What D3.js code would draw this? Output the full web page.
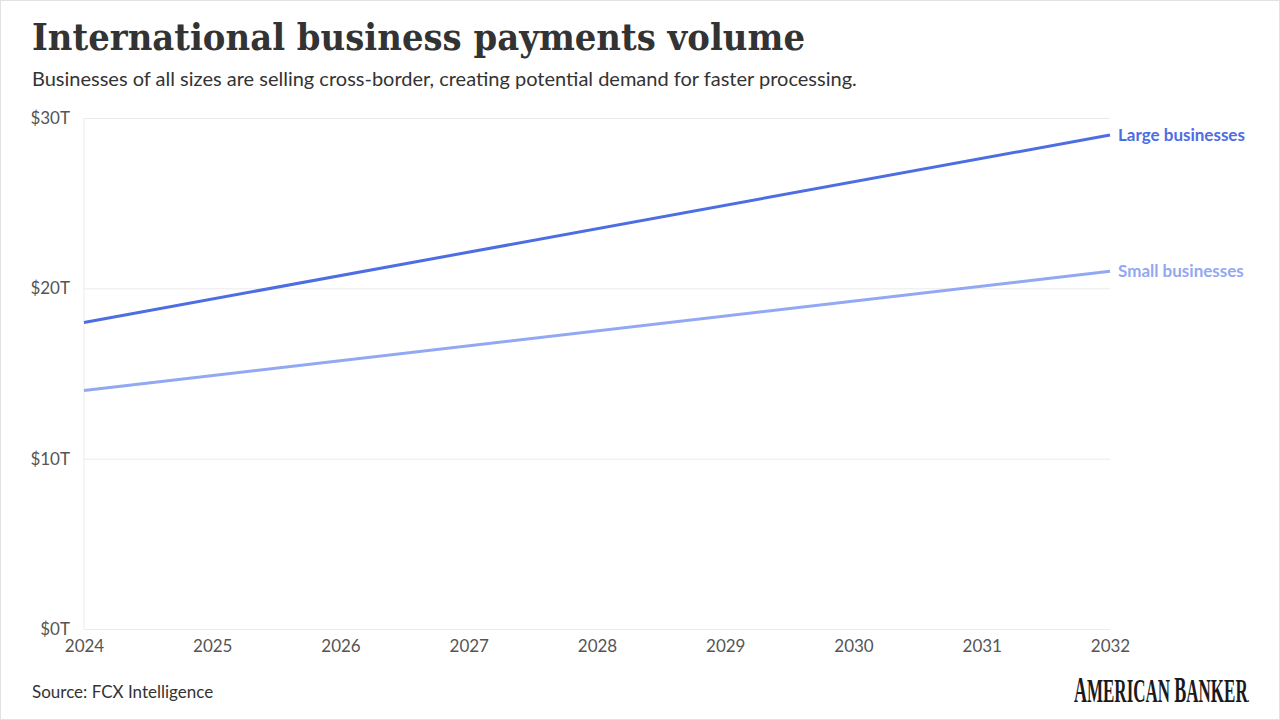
<!DOCTYPE html>
<html>
<head>
<meta charset="utf-8">
<script src="https://cdn.jsdelivr.net/npm/d3@7"></script>
<style>
  body { margin: 0; background: #fff; }
  svg { display: block; }
</style>
</head>
<body>
<svg id="chart"></svg>
<script>
// data
var years = [2024, 2032];
var largeValues = [18, 29];
var smallValues = [14, 21];
var seriesNames = ["Large businesses", "Small businesses"];
var seriesColors = ["#4d6de3", "#93a8f2"];
var yTicks = [0, 10, 20, 30];
var xTicks = [2024, 2025, 2026, 2027, 2028, 2029, 2030, 2031, 2032];

var dimensions = {
  width: 1280,
  height: 720,
  margin: { top: 118, bottom: 91, left: 84, right: 170 }
}

var svg = d3.select("#chart")
  .attr("width", dimensions.width)
  .attr("height", dimensions.height)

// frame
svg.append("rect")
  .attr("x", 0.5).attr("y", 0.5)
  .attr("width", dimensions.width - 1)
  .attr("height", dimensions.height - 1)
  .attr("fill", "#fff")
  .attr("stroke", "#e2e2e2")

svg.append("text")
  .text("International business payments volume")
  .attr("x", 32).attr("y", 50)
  .attr("font-family", "DejaVu Serif")
  .attr("font-weight", "bold")
  .attr("font-size", "37px")
  .attr("textLength", 773)
  .attr("lengthAdjust", "spacingAndGlyphs")
  .attr("fill", "#333")

svg.append("text")
  .text("Businesses of all sizes are selling cross-border, creating potential demand for faster processing.")
  .attr("x", 32).attr("y", 86)
  .attr("font-family", "Lato")
  .attr("font-size", "20px")
  .attr("fill", "#333")

var x = d3.scaleLinear()
  .domain([2024, 2032])
  .range([dimensions.margin.left, dimensions.width - dimensions.margin.right])

var y = d3.scaleLinear()
  .domain([0, 30])
  .range([dimensions.height - dimensions.margin.bottom, dimensions.margin.top])

// gridlines
var yAxis = svg.append("g")
  .attr("transform", "translate(" + dimensions.margin.left + ",0)")
  .call(d3.axisLeft(y)
    .tickValues(yTicks)
    .tickSize(-(x.range()[1] - x.range()[0]))
    .tickPadding(14)
    .tickFormat(function(d) { return "$" + d + "T"; }))
yAxis.select(".domain").remove()
yAxis.selectAll("line").attr("stroke", "#ebebeb")
yAxis.selectAll("text")
  .attr("font-family", "Lato")
  .attr("font-size", "17px")
  .attr("fill", "#555")

// left vertical line
svg.append("line")
  .attr("x1", x(2024)).attr("x2", x(2024))
  .attr("y1", y(30)).attr("y2", y(0))
  .attr("stroke", "#ebebeb")

var xAxis = svg.append("g")
  .attr("transform", "translate(0," + y(0) + ")")
  .call(d3.axisBottom(x)
    .tickValues(xTicks)
    .tickSize(0)
    .tickPadding(11)
    .tickFormat(d3.format("d")))
xAxis.select(".domain").remove()
xAxis.selectAll("text")
  .attr("font-family", "Lato")
  .attr("font-size", "17px")
  .attr("fill", "#555")

var line = d3.line()
  .x(function(d) { return x(d.year); })
  .y(function(d) { return y(d.value); })

var series = [largeValues, smallValues].map(function(vals, i) {
  return {
    name: seriesNames[i],
    color: seriesColors[i],
    points: years.map(function(yr, j) { return { year: yr, value: vals[j] }; })
  };
});

svg.append("g")
  .selectAll("path")
  .data(series)
  .enter()
  .append("path")
    .attr("d", function(d) { return line(d.points); })
    .attr("fill", "none")
    .attr("stroke", function(d) { return d.color; })
    .attr("stroke-width", 3)

svg.append("g")
  .selectAll("text")
  .data(series)
  .enter()
  .append("text")
    .text(function(d) { return d.name; })
    .attr("x", x(2032) + 8)
    .attr("y", function(d) { return y(d.points[d.points.length - 1].value); })
    .attr("dy", "0.35em")
    .attr("font-family", "Lato")
    .attr("font-weight", "bold")
    .attr("font-size", "17px")
    .attr("fill", function(d) { return d.color; })

svg.append("text")
  .text("Source: FCX Intelligence")
  .attr("x", 32).attr("y", 698)
  .attr("font-family", "Lato")
  .attr("font-size", "17px")
  .attr("fill", "#333")

// logo, squeezed sideways
var logo = svg.append("g")
  .attr("transform", "translate(1074,702) scale(0.5,1)")
  .append("text")
  .attr("font-family", "Liberation Serif")
  .attr("font-weight", "bold")
  .attr("fill", "#1a1a1a")
logo.append("tspan").attr("font-size", "36px").text("A")
logo.append("tspan").attr("font-size", "34px").text("MERICAN ")
logo.append("tspan").attr("font-size", "36px").text("B")
logo.append("tspan").attr("font-size", "34px").text("ANKER")
logo.append("tspan").attr("font-size", "12px").text(".")
</script>
</body>
</html>
